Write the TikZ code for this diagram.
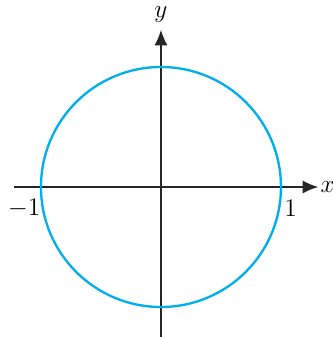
\documentclass[tikz,border=0pt]{standalone}
\usepackage{xcolor}
\usepackage{amsmath}
\usetikzlibrary{arrows.meta, positioning}

\definecolor{circblue}{RGB}{0,173,239}

\begin{document}
\begin{tikzpicture}[
        axis/.style={-{Latex[length=2.6mm, width=2.2mm]}, line width=0.7pt, black!85},
        unitcircle/.style={draw=circblue, line width=1.1pt},
        lbl/.style={inner sep=1pt, font=\large}
    ]
        \useasboundingbox (-2.683,-2.5) rectangle (2.867,3.117);
        \coordinate (origin) at (0,0);
        \coordinate (xstart) at (-2.45,0);
        \coordinate (xend) at (2.62,0);
        \coordinate (ystart) at (0,-2.5);
        \coordinate (yend) at (0,2.62);
        \node (xlabel) [lbl, right=0cm of xend] {$x$};
        \node (ylabel) [lbl, above=0.08cm of yend] {$y$};
        \node (mone) [lbl] at (-2.28,-0.36) {$-1$};
        \node (one) [lbl] at (2.16,-0.36) {$1$};

        \draw [axis] (xstart) -- (xend);
        \draw [axis] (ystart) -- (yend);
        \draw [unitcircle] (origin) circle (2);
    \end{tikzpicture}
\end{document}
